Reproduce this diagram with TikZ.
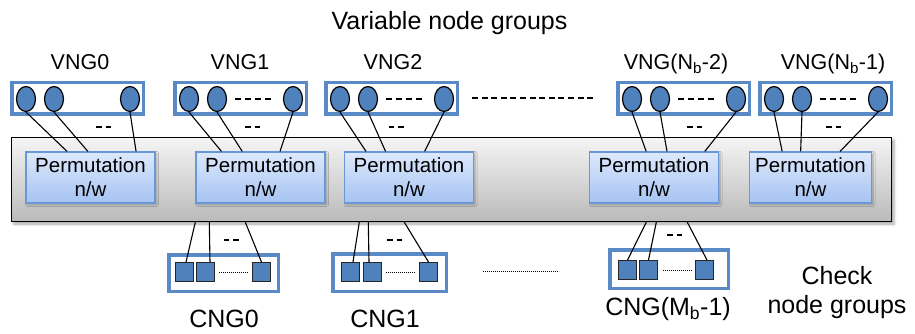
\documentclass[tikz,border=0pt]{standalone}
\usepackage{fontspec}
\setmainfont{Liberation Sans}
\usetikzlibrary{calc,shadows.blur,shapes.geometric}
\definecolor{obl}{HTML}{4F81BD}
\definecolor{bbord}{HTML}{5A8AC6}
\definecolor{ptop}{HTML}{DDE9FB}
\definecolor{pbot}{HTML}{A6C3F3}
\definecolor{pbord}{HTML}{6A98D6}
\begin{document}
\begin{tikzpicture}[x=1pt,y=-1pt,
  grp/.style={draw=bbord, line width=3.5pt, fill=white, minimum width=131.5pt, minimum height=31.5pt, inner sep=0pt},
  cgrp/.style={draw=bbord, line width=3.5pt, fill=white, inner sep=0pt},
  vn/.style={ellipse, draw=black, line width=1.2pt, fill=obl, minimum width=19pt, minimum height=25pt, inner sep=0pt},
  cn/.style={rectangle, draw=black!85, line width=0.9pt, fill=obl, minimum width=18pt, minimum height=19pt, inner sep=0pt},
  perm/.style={draw=pbord, line width=1.2pt, top color=ptop, bottom color=pbot, minimum width=129pt, minimum height=51pt,
     align=center, font=\fontsize{20.5}{24}\selectfont, inner sep=0pt,
     blur shadow={shadow xshift=1.5pt, shadow yshift=-1.5pt, shadow opacity=30, shadow blur radius=2pt}},
  greybox/.style={draw=black, line width=1.4pt, top color=black!4, bottom color=black!27, minimum width=880pt, minimum height=84pt, inner sep=0pt,
     blur shadow={shadow xshift=2.5pt, shadow yshift=-2.5pt, shadow opacity=35, shadow blur radius=2.5pt}},
  conn/.style={draw=black, line width=1.1pt},
  lab/.style={font=\fontsize{21.5}{26}\selectfont, anchor=base, inner sep=0pt},
  big/.style={font=\fontsize{25}{29}\selectfont, anchor=base, inner sep=0pt},
  indash/.style={line width=1.2pt, dash pattern=on 6pt off 4pt},
  longdash/.style={line width=1.2pt, dash pattern=on 6pt off 3.6pt},
  sdash/.style={line width=1.3pt, dash pattern=on 5.5pt off 4pt},
  dots/.style={line width=0.7pt, dash pattern=on 1.2pt off 0.8pt}
]
\useasboundingbox (0,0) rectangle (915,334);

% title
\node[big] (title) at (449.5,30) {Variable node groups};

% big grey box
\node[greybox] (g) at (451.5,179.5) {};

% permutation networks
\node[perm] (p0) at (90.5,177.5) {Permutation\\n/w};
\node[perm] (p1) at (260.5,177.5) {Permutation\\n/w};
\node[perm] (p2) at (409,177.5) {Permutation\\n/w};
\node[perm] (p3) at (654,177.5) {Permutation\\n/w};
\node[perm, minimum width=122pt] (p4) at (810.5,177.5) {Permutation\\n/w};

% variable node groups
\foreach \i/\L in {0/10,1/173,2/324,3/616,4/758}{
  \node[grp] (v\i) at (\L+67.5,98.5) {};
  \node[vn] (v\i-a) at (\L+16,99) {};
  \node[vn] (v\i-b) at (\L+44,99) {};
  \node[vn] (v\i-c) at (\L+120,99) {};
}
\foreach \L in {173,324,616,758}
  \draw[indash] (\L+62,99) -- (\L+98,99);
\draw[longdash] (472,98) -- (595,98);

% VNG labels
\node[lab] (lv0) at (80,70) {VNG0};
\node[lab] (lv1) at (240,70) {VNG1};
\node[lab] (lv2) at (393,70) {VNG2};
\node[lab] (lv3) at (676,70) {VNG(N\textsubscript{b}-2)};
\node[lab] (lv4) at (833,70) {VNG(N\textsubscript{b}-1)};

% small dashes
\foreach \x/\y in {103.5/127, 252.5/127, 396/127, 694.5/127, 833.5/127, 231/240, 394.5/240, 674.5/235}
  \draw[sdash] (\x-7.5,\y) -- (\x+7.5,\y);

% connectors VNG -> permutation
\foreach \i/\a/\b/\c in {0/0.32/0.48/0.85, 1/0.2/0.36/0.65, 2/0.17/0.32/0.62, 3/0.44/0.6/0.89, 4/0.27/0.42/0.74}{
  \draw[conn] (v\i-a.south) -- ($(p\i.north west)!\a!(p\i.north east)$);
  \draw[conn] (v\i-b.south) -- ($(p\i.north west)!\b!(p\i.north east)$);
  \draw[conn] (v\i-c.south) -- ($(p\i.north west)!\c!(p\i.north east)$);
}

% check node groups
\node[cgrp, minimum width=109.5pt, minimum height=36.5pt] (c0) at (223.5,273) {};
\node[cgrp, minimum width=113.5pt, minimum height=37.5pt] (c1) at (389.5,272.5) {};
\node[cgrp, minimum width=118.5pt, minimum height=38.5pt] (c2) at (669,269) {};
\node[cn] (c0-a) at (184.5,272) {};
\node[cn] (c0-b) at (205.5,272) {};
\node[cn] (c0-c) at (261.5,272) {};
\node[cn] (c1-a) at (350.5,272) {};
\node[cn] (c1-b) at (372.5,272) {};
\node[cn] (c1-c) at (428.5,272) {};
\node[cn] (c2-a) at (627.5,270) {};
\node[cn] (c2-b) at (648.5,270) {};
\node[cn] (c2-c) at (704,270) {};
\draw[dots] (c0-b.east) ++(4,0) -- ($(c0-c.west)+(-4,0)$);
\draw[dots] (c1-b.east) ++(4,0) -- ($(c1-c.west)+(-4,0)$);
\draw[dots] (c2-b.east) ++(5,0) -- ($(c2-c.west)+(-2,0)$);
\draw[dots] (483,271) -- (559,271);

% connectors grey box -> CNG
\draw[conn] ($(g.south west)+(184.5,0)$) -- ($(c0-a.north)+(1.5,0)$);
\draw[conn] ($(g.south west)+(198.5,0)$) -- ($(c0-b.north)+(4.5,0)$);
\draw[conn] ($(g.south west)+(234.5,0)$) -- (c0-c.north);
\draw[conn] ($(g.south west)+(348.5,0)$) -- ($(c1-a.north)+(2.5,0)$);
\draw[conn] ($(g.south west)+(357.5,0)$) -- ($(c1-b.north)+(-3.5,0)$);
\draw[conn] ($(g.south west)+(393.5,0)$) -- (c1-c.north);
\draw[conn] ($(g.south west)+(635.5,0)$) -- (c2-a.north);
\draw[conn] ($(g.south west)+(645.5,0)$) -- (c2-b.north);
\draw[conn] ($(g.south west)+(676.5,0)$) -- ($(c2-c.north)+(3,0)$);

% CNG labels
\node[big] (lc0) at (224,327) {CNG0};
\node[big] (lc1) at (385,327) {CNG1};
\node[big] (lc2) at (668,315) {CNG(M\textsubscript{b}-1)};
\node[big] (chk1) at (837,284) {Check};
\node[big] (chk2) at (837,313) {node groups};
\end{tikzpicture}
\end{document}
